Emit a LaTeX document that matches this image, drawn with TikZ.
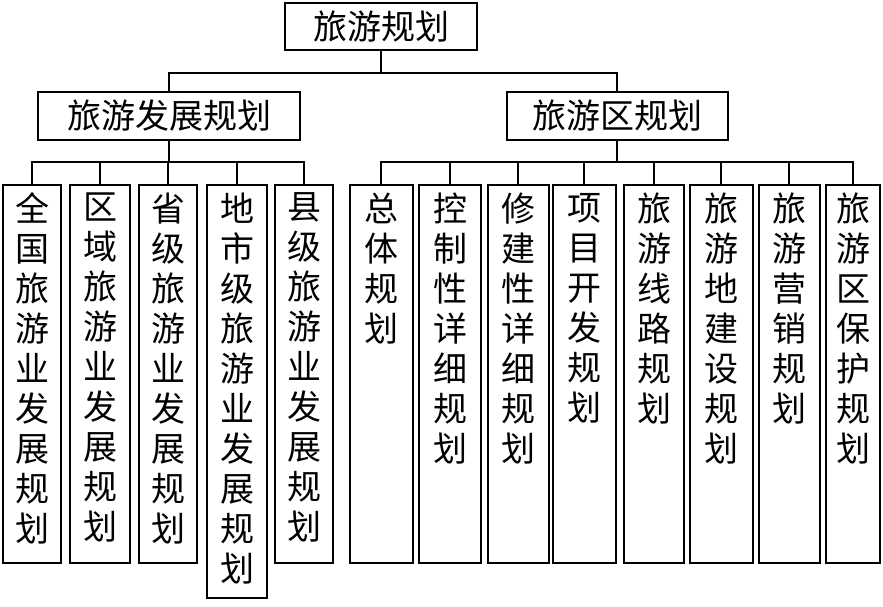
\documentclass[tikz,border=0pt]{standalone}
\usepackage{fontspec}
\setmainfont{Noto Sans CJK SC}
\begin{document}
\begin{tikzpicture}[x=1pt,y=-1pt,line width=2pt,
  hbox/.style={draw,inner sep=0pt,font=\fontsize{34}{38}\selectfont},
  vtext/.style={anchor=north,inner sep=0pt,align=center,font=\fontsize{34}{40}\selectfont}]
\useasboundingbox (0,0) rectangle (883,607);
\node[hbox,minimum width=192,minimum height=47] (top) at (381,27) {旅游规划};
\node[hbox,minimum width=262,minimum height=48] (L) at (169,116) {旅游发展规划};
\node[hbox,minimum width=221,minimum height=48] (R) at (617,116) {旅游区规划};
\coordinate (tb) at (381,73);
\draw (top.south) -- (tb);
\draw (L.north) |- (tb) -| (R.north);
% left leaves
\foreach \x/\w/\b/\t [count=\i] in {32/58/563/{全\\国\\旅\\游\\业\\发\\展\\规\\划},
  100/60/563/{区\\域\\旅\\游\\业\\发\\展\\规\\划},
  168/58/563/{省\\级\\旅\\游\\业\\发\\展\\规\\划},
  237/60/598/{地\\市\\级\\旅\\游\\业\\发\\展\\规\\划},
  304/58/563/{县\\级\\旅\\游\\业\\发\\展\\规\\划}}{
  \draw (\x-\w/2,185) rectangle (\x+\w/2,\b);
  \coordinate (l\i) at (\x,185);
  \node[vtext] (lt\i) at (\x,192) {\t};
}
\coordinate (lb) at (169,162);
\draw (L.south) -- (lb);
\draw (l1) |- (lb) -| (l5);
\foreach \i in {2,3,4} \draw (l\i) -- ++(0,-23);
% right leaves
\foreach \x/\w/\t [count=\i] in {381/63/{总\\体\\规\\划},
  450/62/{控\\制\\性\\详\\细\\规\\划},
  518/61/{修\\建\\性\\详\\细\\规\\划},
  584/63/{项\\目\\开\\发\\规\\划},
  654/60/{旅\\游\\线\\路\\规\\划},
  721/63/{旅\\游\\地\\建\\设\\规\\划},
  789/61/{旅\\游\\营\\销\\规\\划},
  853/54/{旅\\游\\区\\保\\护\\规\\划}}{
  \draw (\x-\w/2,185) rectangle (\x+\w/2,563);
  \coordinate (r\i) at (\x,185);
  \node[vtext] (rt\i) at (\x,192) {\t};
}
\coordinate (rb) at (617,162);
\draw (R.south) -- (rb);
\draw (r1) |- (rb) -| (r8);
\foreach \i in {2,...,7} \draw (r\i) -- ++(0,-23);
\end{tikzpicture}
\end{document}
